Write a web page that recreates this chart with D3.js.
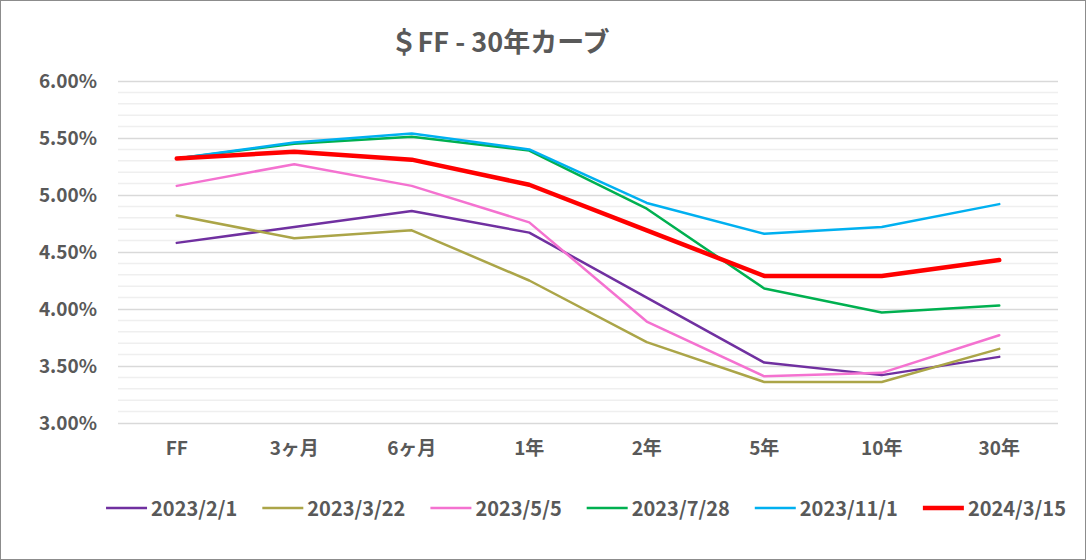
<!DOCTYPE html>
<html>
<head>
<meta charset="utf-8">
<script src="https://cdn.jsdelivr.net/npm/d3@7"></script>
<style>
  body { margin: 0; background: #fff; }
  #chart svg { display: block; }
  text { font-family: "Noto Sans CJK JP", "Noto Sans", sans-serif; fill: #595959; }
</style>
</head>
<body>
<div id="chart"></div>
<script>
// Tenors on the x axis
const tenors = ["FF", "3ヶ月", "6ヶ月", "1年", "2年", "5年", "10年", "30年"];

// Curve dates (legend order)
const dates = ["2023/2/1", "2023/3/22", "2023/5/5", "2023/7/28", "2023/11/1", "2024/3/15"];

// Yields in % for each curve, one value per tenor
const y20230201 = [4.58, 4.72, 4.86, 4.67, 4.10, 3.53, 3.42, 3.58];
const y20230322 = [4.82, 4.62, 4.69, 4.25, 3.71, 3.36, 3.36, 3.65];
const y20230505 = [5.08, 5.27, 5.08, 4.76, 3.89, 3.41, 3.44, 3.77];
const y20230728 = [5.32, 5.45, 5.51, 5.39, 4.88, 4.18, 3.97, 4.03];
const y20231101 = [5.32, 5.46, 5.54, 5.40, 4.93, 4.66, 4.72, 4.92];
const y20240315 = [5.32, 5.38, 5.31, 5.09, 4.69, 4.29, 4.29, 4.43];

const yTicks = [3.0, 3.5, 4.0, 4.5, 5.0, 5.5, 6.0];

const seriesValues = [y20230201, y20230322, y20230505, y20230728, y20231101, y20240315];
const colors = ["#7030A0", "#ABA548", "#F472D0", "#00B050", "#00B0F0", "#FF0000"];
const widths = [2.5, 2.5, 2.5, 2.5, 2.5, 4.5];

const series = dates.map((d, i) => ({
  label: d,
  color: colors[i],
  width: widths[i],
  values: tenors.map((t, j) => ({ tenor: t, v: seriesValues[i][j] }))
}));

const width = 1086;
const height = 560;
const margin = { top: 81, right: 28, bottom: 137, left: 118 };
const innerWidth = width - margin.left - margin.right;
const innerHeight = height - margin.top - margin.bottom;

const svg = d3.select("#chart")
  .append("svg")
  .attr("width", width)
  .attr("height", height);

// Chart border
svg.append("rect")
  .attr("x", 0.5).attr("y", 0.5)
  .attr("width", width - 1).attr("height", height - 1)
  .attr("fill", "#fff")
  .attr("stroke", "#8c8c8c")
  .attr("stroke-width", 1);

// Title
svg.append("text")
  .attr("x", 500)
  .attr("y", 52)
  .attr("text-anchor", "middle")
  .attr("font-size", 27)
  .attr("font-weight", "bold")
  .text("＄FF - 30年カーブ");

const innerChart = svg.append("g")
  .attr("transform", `translate(${margin.left}, ${margin.top})`);

const xScale = d3.scaleBand()
  .domain(tenors)
  .range([0, innerWidth]);

const yScale = d3.scaleLinear()
  .domain([3, 6])
  .range([innerHeight, 0]);

// Minor gridlines every 0.1%
const minorTicks = d3.range(30, 61).map(d => d / 10).filter(d => !yTicks.some(t => Math.abs(t - d) < 1e-9));
innerChart.append("g")
  .selectAll("line")
  .data(minorTicks)
  .join("line")
  .attr("x1", 0).attr("x2", innerWidth)
  .attr("y1", d => yScale(d)).attr("y2", d => yScale(d))
  .attr("stroke", "#EFEFEF")
  .attr("stroke-width", 1.5);

// Major gridlines + y labels
const leftAxis = d3.axisLeft(yScale)
  .tickValues(yTicks)
  .tickSize(-innerWidth)
  .tickFormat(d => d.toFixed(2) + "%");
innerChart.append("g")
  .call(leftAxis)
  .attr("font-size", 19)
  .attr("font-family", null)
  .attr("font-weight", "bold")
  .call(g => g.select(".domain").remove())
  .call(g => g.selectAll(".tick line").attr("stroke", "#D9D9D9").attr("stroke-width", 1.5))
  .call(g => g.selectAll(".tick text")
    .attr("x", -21)
    .attr("fill", "#595959"));

// X labels
const bottomAxis = d3.axisBottom(xScale).tickSize(0);
innerChart.append("g")
  .attr("transform", `translate(0, ${innerHeight})`)
  .call(bottomAxis)
  .attr("font-size", 19)
  .attr("font-family", null)
  .attr("font-weight", "bold")
  .call(g => g.select(".domain").remove())
  .call(g => g.selectAll(".tick text")
    .attr("dy", "1.55em")
    .attr("fill", "#595959"));

// Lines
const line = d3.line()
  .x(d => xScale(d.tenor) + xScale.bandwidth() / 2)
  .y(d => yScale(d.v));

innerChart.selectAll(".line-path")
  .data(series)
  .join("path")
  .attr("class", "line-path")
  .attr("fill", "none")
  .attr("stroke", d => d.color)
  .attr("stroke-width", d => d.width)
  .attr("stroke-linejoin", "round")
  .attr("stroke-linecap", "round")
  .attr("d", d => line(d.values));

// Legend
const legend = svg.append("g")
  .attr("transform", `translate(0, 508)`);

const items = legend.selectAll("g")
  .data(series)
  .join("g");

items.append("line")
  .attr("x1", 0).attr("x2", 41)
  .attr("y1", 0).attr("y2", 0)
  .attr("stroke", d => d.color)
  .attr("stroke-width", d => d.width);

items.append("text")
  .attr("x", 45)
  .attr("y", 7.5)
  .attr("font-size", 20)
  .attr("font-weight", "bold")
  .text(d => d.label);

// Lay out legend items in a centred row
const gap = 25;
const itemWidths = [];
items.each(function () {
  itemWidths.push(45 + this.querySelector("text").getComputedTextLength());
});
const total = d3.sum(itemWidths) + gap * (itemWidths.length - 1);
let xPos = 586 - total / 2;
items.attr("transform", (d, i) => {
  const t = `translate(${xPos}, 0)`;
  xPos += itemWidths[i] + gap;
  return t;
});
</script>
</body>
</html>
